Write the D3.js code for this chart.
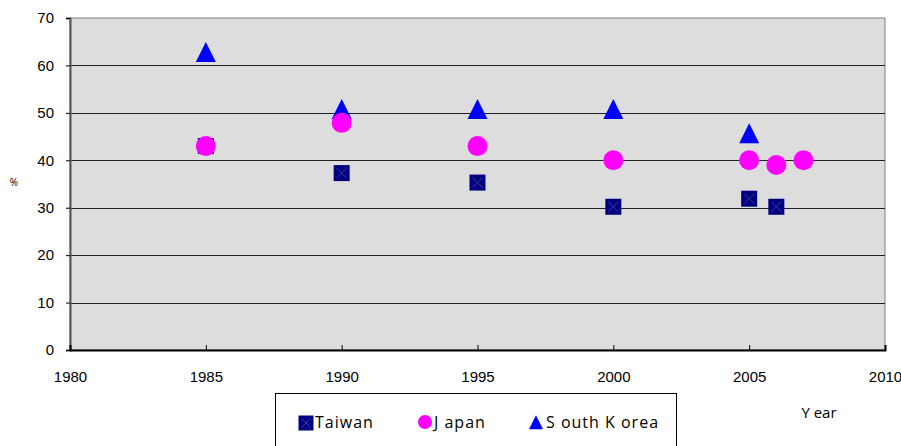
<!DOCTYPE html>
<html lang="en">
<head>
<meta charset="utf-8">
<title>Scatter</title>
<script src="https://cdnjs.cloudflare.com/ajax/libs/d3/7.8.5/d3.min.js"></script>
<style>
  body { margin: 0; background: #fff; }
  svg { font-family: "Open Sans", "Liberation Sans", sans-serif; }
</style>
</head>
<body>
<svg width="901" height="446"></svg>
<script>
// data
var taiwanYears = [1985, 1990, 1995, 2000, 2005, 2006];
var taiwanVals  = [43, 37.3, 35.3, 30.2, 31.9, 30.2];
var japanYears  = [1985, 1990, 1995, 2000, 2005, 2006, 2007];
var japanVals   = [43, 47.9, 43, 40, 40, 39, 40];
var koreaYears  = [1985, 1990, 1995, 2000, 2005];
var koreaVals   = [62.6, 50.6, 50.6, 50.6, 45.5];
var xTicks = [1980, 1985, 1990, 1995, 2000, 2005, 2010];
var yTicks = [0, 10, 20, 30, 40, 50, 60, 70];

var svg = d3.select("svg"),
    pLeft = 70, pRight = 885, pTop = 18, pBottom = 350;

var x = d3.scaleLinear().domain([1980, 2010]).range([pLeft, pRight]);
var y = d3.scaleLinear().domain([0, 70]).range([pBottom, pTop]);

// fondo del area de trazado
svg.append("rect")
    .attr("x", pLeft).attr("y", pTop)
    .attr("width", pRight - pLeft).attr("height", pBottom - pTop)
    .attr("fill", "#dddddd")
    .attr("stroke", "#808080").attr("stroke-width", 1);

// lineas de cuadricula
svg.append("g")
    .selectAll("line")
    .data(yTicks.slice(1, -1))
    .enter().append("line")
    .attr("x1", pLeft).attr("x2", pRight)
    .attr("y1", function(d) { return Math.round(y(d)) + 0.5; })
    .attr("y2", function(d) { return Math.round(y(d)) + 0.5; })
    .attr("stroke", "#222").attr("stroke-width", 1);

// eje y
var yAxis = svg.append("g")
    .attr("transform", "translate(" + pLeft + ",0)")
    .call(d3.axisLeft(y).tickValues(yTicks).tickSize(4).tickPadding(12));
yAxis.select(".domain").attr("stroke", "#555").attr("stroke-width", 2);
yAxis.selectAll("text").attr("font-size", 15).attr("fill", "#000");

// eje x
var xAxis = svg.append("g")
    .attr("transform", "translate(0," + pBottom + ")")
    .call(d3.axisTop(x).tickValues(xTicks).tickFormat(d3.format("d")).tickSize(5));
xAxis.select(".domain").attr("stroke", "#000").attr("stroke-width", 2);
xAxis.selectAll("text").attr("font-size", 15).attr("fill", "#000")
    .attr("y", 32).attr("dy", 0);

// titulos
svg.append("text").attr("x", 14).attr("y", 186).attr("fill", "#000")
    .attr("text-anchor", "middle").attr("font-size", 10).text("%");
svg.append("text").attr("x", 819).attr("y", 418).attr("fill", "#000")
    .attr("text-anchor", "middle").attr("font-size", 15).text("Y ear");

function square(g, cx, cy, s) {
  g.append("rect").attr("x", cx - s / 2).attr("y", cy - s / 2)
      .attr("width", s).attr("height", s).attr("fill", "#000080");
  var h = s / 2 - 3;
  g.append("path")
      .attr("d", "M" + (cx - h) + "," + (cy - h) + "L" + (cx + h) + "," + (cy + h) +
                 "M" + (cx + h) + "," + (cy - h) + "L" + (cx - h) + "," + (cy + h))
      .attr("stroke", "#3a3aa8").attr("stroke-width", 1);
}
function circle(g, cx, cy, r) {
  g.append("circle").attr("cx", cx).attr("cy", cy).attr("r", r).attr("fill", "#ff00ff");
}
function triangle(g, cx, cy, s) {
  g.append("path")
      .attr("d", "M" + cx + "," + (cy - s * 0.55) + "L" + (cx + s / 2) + "," + (cy + s * 0.45) +
                 "L" + (cx - s / 2) + "," + (cy + s * 0.45) + "Z")
      .attr("fill", "#0000ff");
}

var marks = svg.append("g");
taiwanYears.forEach(function(d, i) { square(marks, x(d), y(taiwanVals[i]), 16); });
koreaYears.forEach(function(d, i) { triangle(marks, x(d), y(koreaVals[i]), 20); });
japanYears.forEach(function(d, i) { circle(marks, x(d), y(japanVals[i]), 10); });

// leyenda
var legend = svg.append("g");
legend.append("rect").attr("x", 275.5).attr("y", 393.5).attr("width", 401).attr("height", 60)
    .attr("fill", "#fff").attr("stroke", "#000").attr("stroke-width", 1);
square(legend, 306, 423, 15);
legend.append("text").attr("x", 315).attr("y", 428).attr("font-size", 16)
    .attr("letter-spacing", 1).text("Taiwan");
circle(legend, 425, 422, 7);
legend.append("text").attr("x", 434).attr("y", 428).attr("font-size", 16)
    .attr("letter-spacing", 1).text("J apan");
triangle(legend, 536, 423, 14);
legend.append("text").attr("x", 546).attr("y", 428).attr("font-size", 16)
    .attr("letter-spacing", 1).text("S outh K orea");
</script>
</body>
</html>
